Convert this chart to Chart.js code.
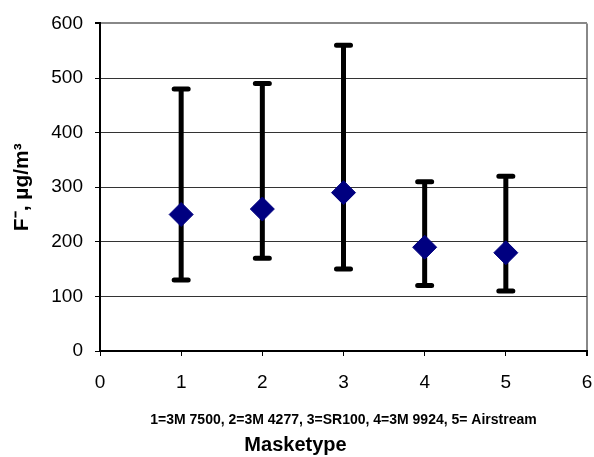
<!DOCTYPE html>
<html>
<head>
<meta charset="utf-8">
<script src="https://cdn.jsdelivr.net/npm/chart.js@4/dist/chart.umd.min.js"></script>
<style>
  html, body { margin: 0; padding: 0; background: #fff; }
  #wrap { width: 594px; height: 457px; }
</style>
</head>
<body>
<div id="wrap"><canvas id="chart"></canvas></div>
<script>
// values
var maskTypes = [1, 2, 3, 4, 5];
var meanValues = [250, 260, 290, 190, 180];
var lowValues = [130, 170, 150, 120, 110];
var highValues = [480, 490, 560, 310, 320];
var yTicks = [0, 100, 200, 300, 400, 500, 600];
var xTicks = [0, 1, 2, 3, 4, 5, 6];

var points = maskTypes.map(function (m, i) {
	return { x: m, y: meanValues[i], low: lowValues[i], high: highValues[i] };
});

// whiskers drawn under the diamonds
var errorBars = {
	id: "errorBars",
	beforeDatasetsDraw: function (chart) {
		var ctx = chart.ctx;
		var xs = chart.scales.x, ys = chart.scales.y;
		ctx.save();
		ctx.strokeStyle = "#000";
		ctx.lineWidth = 5;
		ctx.lineCap = "round";
		points.forEach(function (p) {
			var px = xs.getPixelForValue(p.x);
			var top = ys.getPixelForValue(p.high);
			var bot = ys.getPixelForValue(p.low);
			ctx.beginPath();
			ctx.moveTo(px, top);
			ctx.lineTo(px, bot);
			ctx.moveTo(px - 7, top);
			ctx.lineTo(px + 7, top);
			ctx.moveTo(px - 7, bot);
			ctx.lineTo(px + 7, bot);
			ctx.stroke();
		});
		ctx.restore();
	}
};

var fontFamily = "Liberation Sans, Arial";

new Chart(document.getElementById("chart"), {
	type: "scatter",
	data: {
		datasets: [{
			data: points,
			pointStyle: "rectRot",
			pointRadius: 12,
			pointHoverRadius: 12,
			backgroundColor: "#000080",
			borderColor: "#000080",
			borderWidth: 1
		}]
	},
	plugins: [errorBars],
	options: {
		responsive: true,
		maintainAspectRatio: false,
		animation: false,
		layout: { autoPadding: false, padding: { top: 21, right: 7, left: 4, bottom: 0 } },
		plugins: {
			legend: { display: false },
			tooltip: { enabled: false },
			title: {
				display: true,
				position: "bottom",
				text: "Masketype",
				color: "#000",
				font: { family: fontFamily, size: 20, weight: "bold" },
				padding: { top: 4, bottom: 0 }
			}
		},
		scales: {
			x: {
				type: "linear",
				min: 0,
				max: 6,
				afterBuildTicks: function (s) { s.ticks = xTicks.map(function (v) { return { value: v }; }); },
				afterFit: function (s) { s.height = 78; s.paddingLeft = 0; s.paddingRight = 0; },
				ticks: {
					color: "#000",
					padding: 15,
					maxRotation: 0,
					font: { family: fontFamily, size: 19 }
				},
				grid: {
					drawOnChartArea: true,
					tickLength: 5,
					tickColor: "#000",
					lineWidth: function (c) { return c.tick && c.tick.value === 6 ? 2 : 1; },
					color: function (c) { return c.tick && c.tick.value === 6 ? "#888" : "rgba(0,0,0,0)"; }
				},
				border: { color: "#000", width: 2 },
				title: {
					display: true,
					text: "1=3M 7500, 2=3M 4277, 3=SR100, 4=3M 9924, 5= Airstream",
					color: "#000",
					font: { family: fontFamily, size: 14, weight: "bold" },
					padding: { top: 0, bottom: 0 }
				}
			},
			y: {
				min: 0,
				max: 600,
				afterBuildTicks: function (s) { s.ticks = yTicks.map(function (v) { return { value: v }; }); },
				afterFit: function (s) { s.width = 96; },
				ticks: {
					color: "#000",
					padding: 12,
					font: { family: fontFamily, size: 19 }
				},
				grid: {
					tickLength: 5,
					tickColor: "#000",
					lineWidth: function (c) { return c.tick && c.tick.value === 600 ? 2 : 1; },
					color: function (c) {
						if (c.tick && c.tick.value === 600) return "#888";
						return "#333";
					}
				},
				border: { color: "#000", width: 2 },
				title: {
					display: true,
					text: "F\u207B, \u00B5g/m\u00B3",
					color: "#000",
					font: { family: fontFamily, size: 21, weight: "bold" },
					padding: { top: 6, bottom: 0 }
				}
			}
		}
	}
});
</script>
</body>
</html>
